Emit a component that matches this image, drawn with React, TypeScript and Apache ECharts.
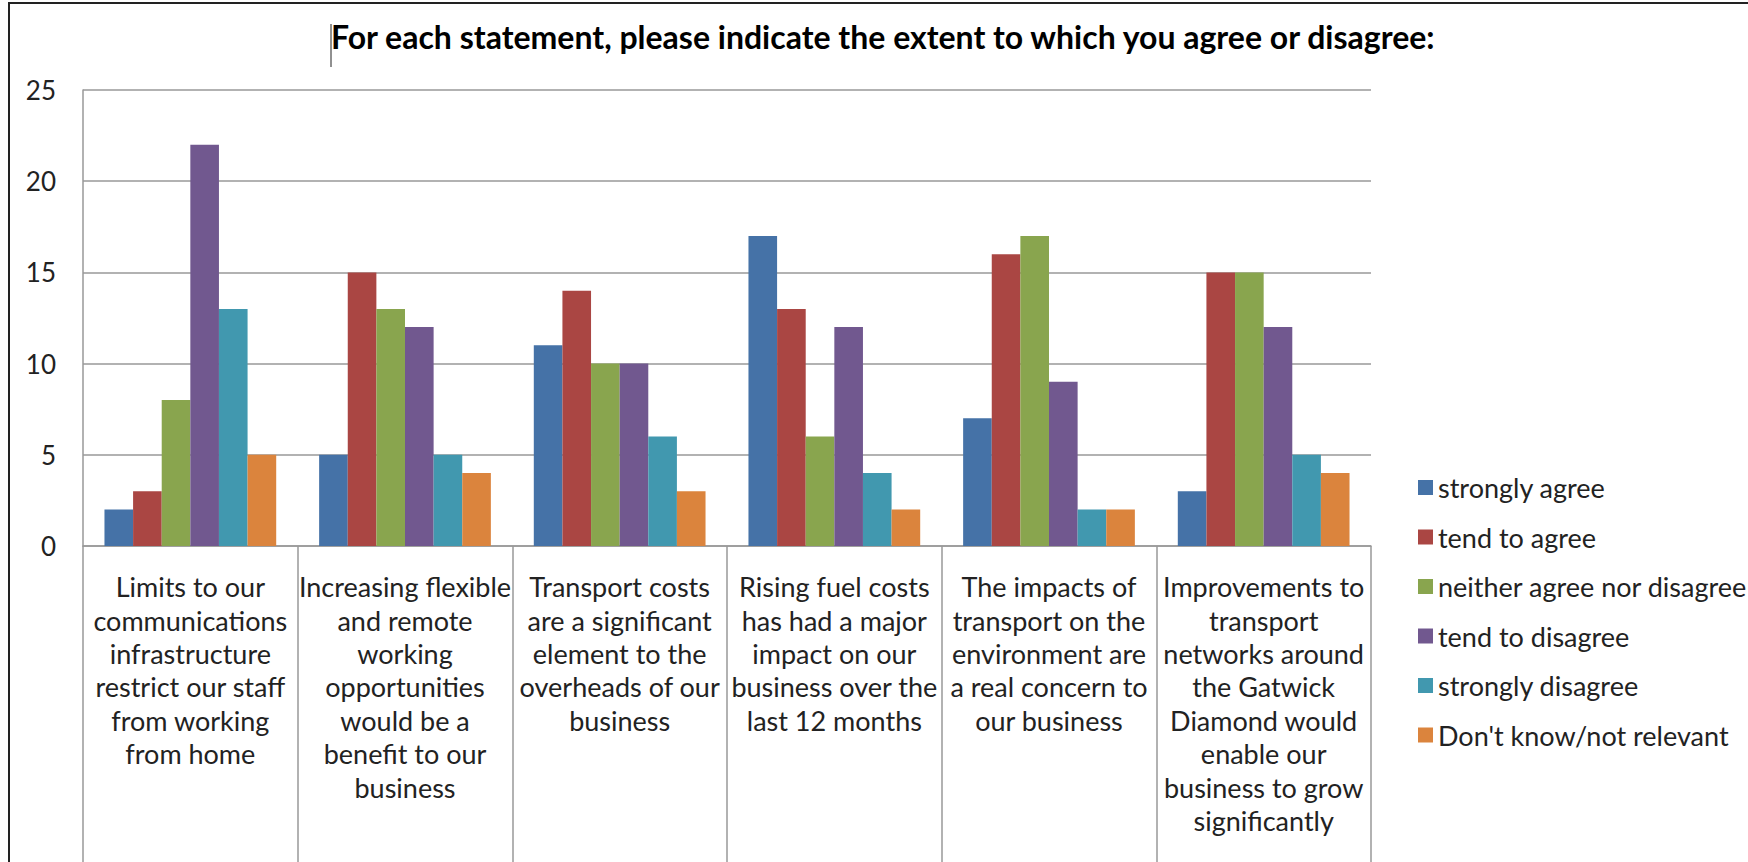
import React, { useEffect, useRef } from "react";
import * as echarts from "echarts";

const categories = [
  "Limits to our\ncommunications\ninfrastructure\nrestrict our staff\nfrom working\nfrom home",
  "Increasing flexible\nand remote\nworking\nopportunities\nwould be a\nbenefit to our\nbusiness",
  "Transport costs\nare a significant\nelement to the\noverheads of our\nbusiness",
  "Rising fuel costs\nhas had a major\nimpact on our\nbusiness over the\nlast 12 months",
  "The impacts of\ntransport on the\nenvironment are\na real concern to\nour business",
  "Improvements to\ntransport\nnetworks around\nthe Gatwick\nDiamond would\nenable our\nbusiness to grow\nsignificantly",
];

const seriesNames = [
  "strongly agree",
  "tend to agree",
  "neither agree nor disagree",
  "tend to disagree",
  "strongly disagree",
  "Don't know/not relevant",
];

const stronglyAgree = [2, 5, 11, 17, 7, 3];
const tendToAgree = [3, 15, 14, 13, 16, 15];
const neither = [8, 13, 10, 6, 17, 15];
const tendToDisagree = [22, 12, 10, 12, 9, 12];
const stronglyDisagree = [13, 5, 6, 4, 2, 5];
const dontKnow = [5, 4, 3, 2, 2, 4];

const seriesValues = [stronglyAgree, tendToAgree, neither, tendToDisagree, stronglyDisagree, dontKnow];
const colors = ["#4572A7", "#AA4643", "#89A54E", "#71588F", "#4198AF", "#DB843D"];

const titleText = "For each statement, please indicate the extent to which you agree or disagree:";
const FONT = "Lato";

export default function App() {
  const ref = useRef<HTMLDivElement>(null);
  useEffect(() => {
    if (!ref.current) return;
    const chart = echarts.init(ref.current, undefined, { renderer: "svg" });
    chart.setOption({
      animation: false,
      color: colors,
      textStyle: { fontFamily: FONT },
      title: {
        text: titleText,
        left: 326,
        top: 15,
        textStyle: { fontFamily: FONT, fontSize: 32, fontWeight: "bold", color: "#000" },
      },
      graphic: [
        {
          type: "rect",
          shape: { x: 9, y: 3, width: 1800, height: 900 },
          style: { fill: "none", stroke: "#222", lineWidth: 2 },
          silent: true,
        },
        {
          type: "line",
          shape: { x1: 331, y1: 24, x2: 331, y2: 67 },
          style: { stroke: "#222", lineWidth: 1 },
          silent: true,
        },
      ],
      legend: {
        orient: "vertical",
        left: 1413,
        top: 469,
        itemWidth: 15,
        itemHeight: 15,
        itemGap: 22.5,
        icon: "rect",
        data: seriesNames,
        textStyle: { fontFamily: FONT, fontSize: 27, color: "#222", lineHeight: 27 },
      },
      grid: { left: 83, right: 377, top: 90, bottom: 316, containLabel: false },
      xAxis: {
        type: "category",
        data: categories,
        boundaryGap: true,
        axisLine: { show: true, lineStyle: { color: "#999", width: 1.5 } },
        axisTick: { show: true, length: 320, interval: 0, lineStyle: { color: "#999", width: 1.5 } },
        axisLabel: {
          interval: 0,
          margin: 24,
          fontFamily: FONT,
          fontSize: 27,
          lineHeight: 33.4,
          color: "#222",
          align: "center",
        },
      },
      yAxis: {
        type: "value",
        min: 0,
        max: 25,
        interval: 5,
        axisLine: { show: true, lineStyle: { color: "#999", width: 1.5 } },
        axisTick: { show: false },
        splitLine: { show: true, lineStyle: { color: "#999", width: 1.5 } },
        axisLabel: { margin: 27, fontFamily: FONT, fontSize: 26, color: "#222" },
      },
      series: seriesNames.map((name, i) => ({
        name,
        type: "bar",
        data: seriesValues[i],
        barGap: "0%",
        barCategoryGap: "20%",
        itemStyle: { color: colors[i] },
      })),
    });
    return () => chart.dispose();
  }, []);
  return (
    <div
      ref={ref}
      style={{ position: "absolute", left: 0, top: 0, width: 1748, height: 862, background: "#fff" }}
    />
  );
}
